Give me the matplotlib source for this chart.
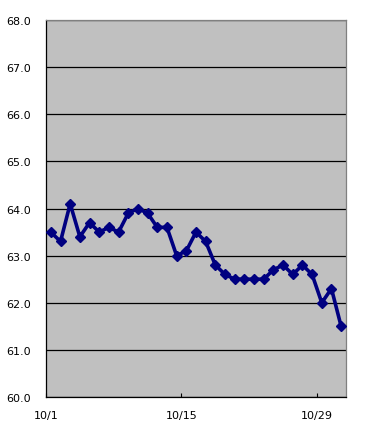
import matplotlib
matplotlib.use("Agg")
import matplotlib.pyplot as plt

# daily values, 10/1 .. 10/31
days = list(range(1, 32))
values = [63.5, 63.3, 64.1, 63.4, 63.7, 63.5, 63.6, 63.5, 63.9, 64.0,
          63.9, 63.6, 63.6, 63.0, 63.1, 63.5, 63.3, 62.8, 62.6, 62.5,
          62.5, 62.5, 62.5, 62.7, 62.8, 62.6, 62.8, 62.6, 62.0, 62.3,
          61.5]
tick_days = [1, 15, 29]
tick_labels = ["10/1", "10/15", "10/29"]
y_ticks = [60, 61, 62, 63, 64, 65, 66, 67, 68]

fig = plt.figure(figsize=(3.67, 4.27), dpi=100)
ax = fig.add_axes([0.1253, 0.0679, 0.8174, 0.8829])
ax.set_facecolor("#C0C0C0")

# points sit between category tick marks (Excel style)
ax.plot(days, values, "-D", color="#000080", lw=2.6, ms=4.8,
        markeredgecolor="#000080", zorder=3)

ax.set_xlim(0.5, 31.5)
ax.set_ylim(60, 68)
ax.set_xticks([d - 0.5 for d in tick_days])
ax.set_xticklabels(tick_labels, fontsize=8)
ax.set_yticks(y_ticks)
ax.set_yticklabels([f"{v:.1f}" for v in y_ticks], fontsize=8)
ax.tick_params(axis="x", direction="in", length=3, pad=9, width=0.8)
ax.tick_params(axis="y", length=0, pad=11)
ax.grid(True, axis="y", color="black", lw=0.9, zorder=1)
ax.set_axisbelow(True)

for s in ("top", "right"):
    ax.spines[s].set_color("#808080")
    ax.spines[s].set_linewidth(0.9)
for s in ("left", "bottom"):
    ax.spines[s].set_color("black")
    ax.spines[s].set_linewidth(0.9)

fig.savefig("out.png", dpi=100)
